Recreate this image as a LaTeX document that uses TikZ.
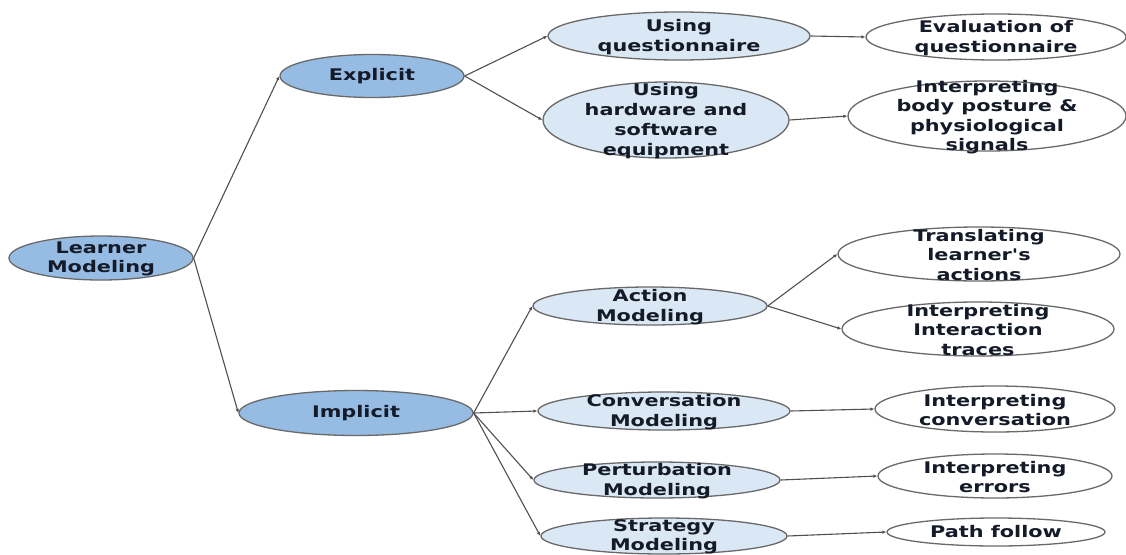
\documentclass[tikz,border=0pt]{standalone}
\usepackage{fontspec}
\newfontfamily\lbl{DejaVu Sans}[FakeStretch=1.3]
\usetikzlibrary{shapes.geometric,arrows.meta}
\definecolor{lvlone}{RGB}{150,188,228}
\definecolor{lvltwo}{RGB}{218,231,245}
\definecolor{edgegray}{RGB}{80,80,80}
\definecolor{bordergray}{RGB}{105,105,105}
\definecolor{navy}{RGB}{20,26,40}
\tikzset{
  ell/.style={ellipse, draw=bordergray, line width=1.3pt, inner sep=0pt},
  ellone/.style={ell, fill=lvlone},
  elltwo/.style={ell, fill=lvltwo},
  ellthree/.style={ell, fill=white},
  txt/.style={align=center, inner sep=0pt, text=navy, font=\lbl\bfseries\fontsize{16}{19.5}\selectfont},
  arr/.style={draw=edgegray, line width=1.1pt, -{Latex[length=4pt,width=3.5pt]}}
}
\begin{document}
\begin{tikzpicture}[x=1pt,y=-1pt]
\useasboundingbox[fill=white] (0,0) rectangle (1126,554);
% level 0
\node[ellone, minimum width=184pt, minimum height=44pt] (lm) at (101,258) {};
\node[txt] (lmt) at (101,259) {Learner\\Modeling};
% level 1
\node[ellone, minimum width=184pt, minimum height=43pt] (ex) at (372,76) {};
\node[txt] (ext) at (ex) {Explicit};
\node[ellone, minimum width=234pt, minimum height=45pt] (im) at (356,413) {};
\node[txt] (imt) at (im) {Implicit};
% level 2 explicit
\node[elltwo, minimum width=262pt, minimum height=48pt] (uq) at (679,36) {};
\node[txt] (uqt) at (679,37) {Using\\questionnaire};
\node[elltwo, minimum width=246pt, minimum height=76pt] (uh) at (666,120) {};
\node[txt, font=\lbl\bfseries\fontsize{16}{20}\selectfont] (uht) at (666,121) {Using\\hardware and\\software\\equipment};
% level 2 implicit
\node[elltwo, minimum width=234pt, minimum height=38pt] (am) at (650,306) {};
\node[txt] (amt) at (650,307) {Action\\Modeling};
\node[elltwo, minimum width=252pt, minimum height=38pt] (cm) at (664,411) {};
\node[txt] (cmt) at (664,412) {Conversation\\Modeling};
\node[elltwo, minimum width=246pt, minimum height=36pt] (pm) at (657,480) {};
\node[txt] (pmt) at (657,481) {Perturbation\\Modeling};
\node[elltwo, minimum width=246pt, minimum height=36pt] (sm) at (664,536) {};
\node[txt] (smt) at (664,537) {Strategy\\Modeling};
% level 3
\node[ellthree, minimum width=260pt, minimum height=46pt] (ev) at (996,37) {};
\node[txt] (evt) at (996,38) {Evaluation of\\questionnaire};
\node[ellthree, minimum width=278pt, minimum height=70pt] (ib) at (987,116) {};
\node[txt] (ibt) at (987,117) {Interpreting\\body posture \&\\physiological\\signals};
\node[ellthree, minimum width=282pt, minimum height=54pt] (tl) at (979,254) {};
\node[txt] (tlt) at (979,255) {Translating\\learner's\\actions};
\node[ellthree, minimum width=272pt, minimum height=54pt] (it) at (978,329) {};
\node[txt] (itt) at (978,330) {Interpreting\\Interaction\\traces};
\node[ellthree, minimum width=240pt, minimum height=46pt] (ic) at (995,409) {};
\node[txt] (ict) at (995,410) {Interpreting\\conversation};
\node[ellthree, minimum width=234pt, minimum height=44pt] (ie) at (995,476) {};
\node[txt] (iet) at (995,477) {Interpreting\\errors};
\node[ellthree, minimum width=218pt, minimum height=28pt] (pf) at (996,532) {};
\node[txt] (pft) at (pf) {Path follow};
% edges
\draw[arr] (lm.east) -- (ex.west);
\draw[arr] (lm.east) -- (im.west);
\draw[arr] (ex.east) -- (uq.west);
\draw[arr] (ex.east) -- (uh.west);
\draw[arr] (uq.east) -- (ev.west);
\draw[arr] (uh.east) -- (ib.west);
\draw[arr] (im.east) -- (am.west);
\draw[arr] (im.east) -- (cm.west);
\draw[arr] (im.east) -- (pm.west);
\draw[arr] (im.east) -- (sm.west);
\draw[arr] (am.east) -- (tl.west);
\draw[arr] (am.east) -- (it.west);
\draw[arr] (cm.east) -- (ic.west);
\draw[arr] (pm.east) -- (ie.west);
\draw[arr] (sm.east) -- (pf.west);
\end{tikzpicture}
\end{document}
